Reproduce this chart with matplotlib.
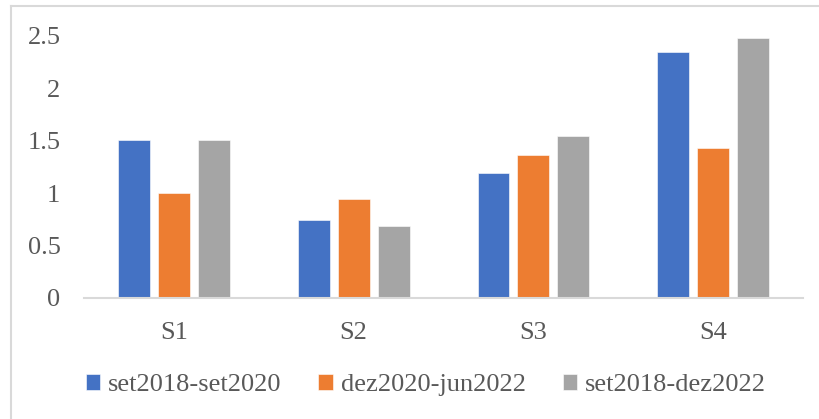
import numpy as np
import matplotlib.pyplot as plt
from matplotlib.lines import Line2D

plt.rcParams['font.family'] = ['Liberation Serif', 'DejaVu Serif']

categories = ['S1', 'S2', 'S3', 'S4']
series_names = ['set2018-set2020', 'dez2020-jun2022', 'set2018-dez2022']
v1 = [1.51, 0.74, 1.19, 2.35]
v2 = [1.00, 0.94, 1.36, 1.43]
v3 = [1.51, 0.69, 1.55, 2.48]
yticks = [0, 0.5, 1, 1.5, 2, 2.5]
yticklabels = ['0', '0.5', '1', '1.5', '2', '2.5']

colors = ['#4472C4', '#ED7D31', '#A5A5A5']

fig = plt.figure(figsize=(8.19, 4.19), dpi=100)
ax = fig.add_axes([0.1026, 0.2888, 0.8779, 0.6253])

x = np.arange(len(categories))
w = 0.178
step = 0.222
for i, (vals, name) in enumerate(zip([v1, v2, v3], series_names)):
    ax.bar(x + (i - 1) * step, vals, width=w, color=colors[i], label=name,
           edgecolor='white', linewidth=0.4, zorder=2)

ax.set_xlim(-0.5, 3.5)
ax.set_ylim(0, 2.5)
ax.set_yticks(yticks)
ax.set_yticklabels(yticklabels)
ax.set_xticks(x)
ax.set_xticklabels(categories)
ax.tick_params(axis='both', length=0, labelsize=19, colors='#595959')
ax.tick_params(axis='y', pad=17)
ax.tick_params(axis='x', pad=17)
for s in ['top', 'right', 'left']:
    ax.spines[s].set_visible(False)
ax.spines['bottom'].set_color('#D9D9D9')
ax.spines['bottom'].set_linewidth(1.5)

leg = fig.legend(loc='center', bbox_to_anchor=(0.52, 0.081), ncol=3, frameon=False,
                 fontsize=19, handlelength=0.55, handleheight=0.55, handletextpad=0.3,
                 columnspacing=1.4, labelcolor='#595959')

# chart border (only left and top edges visible in the crop)
fig.add_artist(Line2D([11 / 819, 11 / 819], [0, 1 - 6 / 419], transform=fig.transFigure,
                      color='#D9D9D9', linewidth=1.5))
fig.add_artist(Line2D([11 / 819, 1], [1 - 6 / 419, 1 - 6 / 419], transform=fig.transFigure,
                      color='#D9D9D9', linewidth=1.5))

plt.savefig('out.png', dpi=100)
